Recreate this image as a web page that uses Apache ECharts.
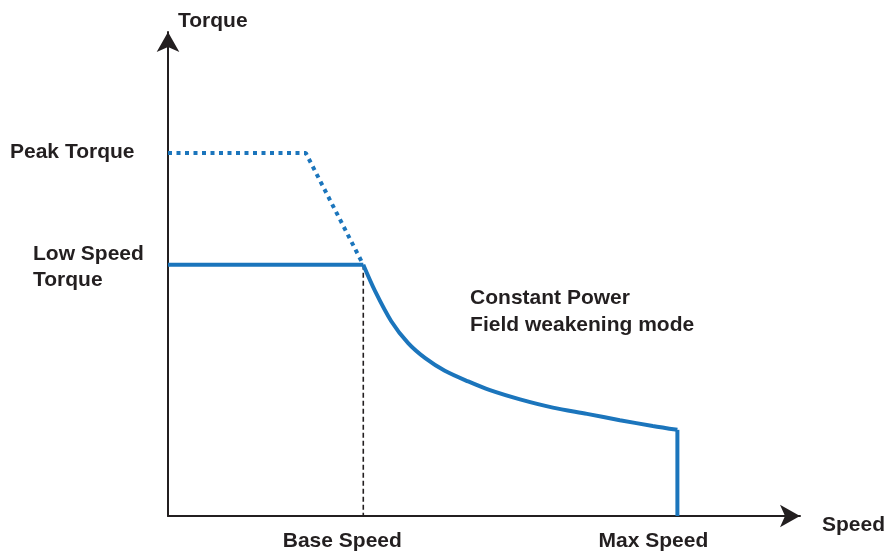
<!DOCTYPE html>
<html>
<head>
<meta charset="utf-8">
<script src="https://cdn.jsdelivr.net/npm/echarts@6/dist/echarts.min.js"></script>
<style>html,body{margin:0;padding:0;background:#fff;}#c{width:887px;height:552px;}</style>
</head>
<body>
<div id="c"></div>
<script>
// Axis titles
const xTitle = 'Speed';
const yTitle = 'Torque';
// Tick labels and their values
const speedTicks = ['Base Speed', 'Max Speed'];
const speedTickValues = [30.9, 80.6];
const torqueTicks = ['Peak Torque', 'Low Speed\nTorque'];
const torqueTickValues = [75.0, 51.9];
// Peak torque envelope (dotted)
const peakX = [0, 21.8, 30.9];
const peakY = [75.0, 75.0, 51.9];
// Low speed torque (constant torque region)
const lowX = [0, 30.9];
const lowY = [51.9, 51.9];
// Constant power / field weakening curve
const fwX = [30.9, 32.75, 35.3, 38.0, 40.7, 43.8, 47.5, 50.95, 55.7, 60.9, 66.3, 71.5, 76.7, 80.6];
const fwY = [51.9, 46.5, 40.3, 35.7, 32.6, 30.0, 27.8, 26.0, 24.1, 22.4, 21.1, 19.8, 18.6, 17.8];
// Max speed cutoff
const cutX = [80.6, 80.6];
const cutY = [17.8, 0];
const regionText = 'Constant Power\nField weakening mode';
const regionPos = [47.8, 42.2];

const zip = (xs, ys) => xs.map((x, i) => [x, ys[i]]);
const BLUE = '#1b75bc';
const INK = '#231f20';
const FONT = '"Liberation Sans", Arial, Helvetica, sans-serif';

const chart = echarts.init(document.getElementById('c'));
const axisCommon = {
  type: 'value', min: 0, max: 100,
  splitLine: {show: false}, axisTick: {show: false}, axisLabel: {show: false},
  axisLine: {show: true, onZero: false, symbol: ['none', 'arrow'], symbolSize: [17, 20],
    lineStyle: {color: INK, width: 2}}
};
chart.setOption({
  animation: false,
  backgroundColor: '#fff',
  grid: {left: 168, right: 87, top: 32, bottom: 36, containLabel: false},
  xAxis: Object.assign({}, axisCommon),
  yAxis: Object.assign({}, axisCommon),
  series: [
    {type: 'line', data: zip(lowX, lowY), symbol: 'none', lineStyle: {color: BLUE, width: 4}, z: 3},
    {type: 'line', data: zip(peakX, peakY), symbol: 'none', lineStyle: {color: BLUE, width: 4, type: [4, 4.5], cap: 'butt'}, z: 3},
    {type: 'line', data: zip(fwX, fwY), symbol: 'none', smooth: 0.3, lineStyle: {color: BLUE, width: 4}, z: 3},
    {type: 'line', data: zip(cutX, cutY), symbol: 'none', lineStyle: {color: BLUE, width: 4, join: 'miter'}, z: 3},
    {type: 'line', data: [[speedTickValues[0], torqueTickValues[1]], [speedTickValues[0], 0]], symbol: 'none',
      lineStyle: {color: INK, width: 1.6, type: [5, 3]}, z: 2}
  ]
});

function px(v) { return chart.convertToPixel({gridIndex: 0}, v); }
const txt = (text, x, y, align, lh) => ({
  type: 'text', x: x, y: y, silent: true,
  style: {text: text, fill: INK, font: 'bold 21px ' + FONT, align: align, verticalAlign: 'middle', lineHeight: lh || 26}
});

const els = [];
const o = px([0, 0]);
const yEnd = px([0, 100]);
const xEnd = px([100, 0]);
els.push(txt(yTitle, o[0] + 10, yEnd[1] - 11, 'left'));
els.push(txt(xTitle, xEnd[0] + 22, o[1] + 9, 'left'));
const tickShift = [-21, -24];
speedTicks.forEach((t, i) => {
  const p = px([speedTickValues[i], 0]);
  els.push(txt(t, p[0] + tickShift[i], o[1] + 25, 'center'));
});
els.push(txt(torqueTicks[0], 10, px([0, torqueTickValues[0]])[1] - 1, 'left'));
els.push(txt(torqueTicks[1], 33, px([0, torqueTickValues[1]])[1] + 2, 'left'));
const rp = px(regionPos);
els.push(txt(regionText, rp[0], rp[1], 'left', 27));
chart.setOption({graphic: {elements: els}});
</script>
</body>
</html>
